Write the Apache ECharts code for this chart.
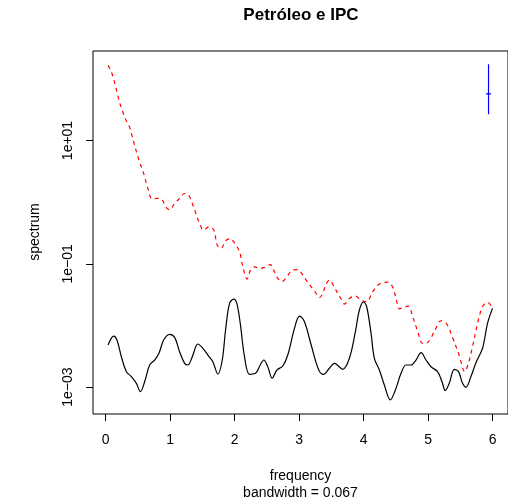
<!DOCTYPE html>
<html>
<head>
<meta charset="utf-8">
<script src="https://cdn.jsdelivr.net/npm/echarts@6/dist/echarts.min.js"></script>
<style>
  html, body { margin: 0; padding: 0; background: #fff; }
  #chart { width: 508px; height: 503px; }
</style>
</head>
<body>
<div id="chart"></div>
<script>
// Petróleo (black, solid) — smoothed periodogram
const petroleoFreq = [0.036, 0.124, 0.175, 0.243, 0.321, 0.398, 0.476, 0.538, 0.604, 0.682, 0.759, 0.826, 0.899, 0.991,
  1.069, 1.146, 1.224, 1.275, 1.343, 1.430, 1.507, 1.585, 1.662, 1.740, 1.808, 1.859, 1.921, 1.986, 2.034, 2.087,
  2.153, 2.231, 2.324, 2.397, 2.452, 2.514, 2.582, 2.654, 2.747, 2.824, 2.928, 3.005, 3.083, 3.187, 3.304, 3.377,
  3.470, 3.548, 3.676, 3.780, 3.873, 3.935, 3.997, 4.048, 4.116, 4.167, 4.245, 4.322, 4.415, 4.493, 4.581, 4.658,
  4.736, 4.813, 4.891, 4.968, 5.046, 5.148, 5.216, 5.267, 5.329, 5.407, 5.473, 5.535, 5.588, 5.665, 5.743, 5.845,
  5.922, 6.0];
const petroleoSpec = [0.00481, 0.00673, 0.00580, 0.00311, 0.00178, 0.00148, 0.00115, 0.000843, 0.00122, 0.00228,
  0.00275, 0.00353, 0.00580, 0.00718, 0.00641, 0.00375, 0.00243, 0.00228, 0.00311, 0.00500, 0.00426, 0.00331,
  0.00258, 0.00163, 0.00275, 0.00842, 0.0228, 0.0268, 0.0228, 0.0108, 0.00311, 0.00161, 0.00167, 0.00228, 0.00275,
  0.00214, 0.00139, 0.00189, 0.00220, 0.00331, 0.00897, 0.0142, 0.0115, 0.00481, 0.00189, 0.00161, 0.00202,
  0.00243, 0.00194, 0.00293, 0.00791, 0.0178, 0.0242, 0.0201, 0.00745, 0.00293, 0.00189, 0.00108, 0.000618,
  0.000897, 0.00167, 0.00228, 0.00228, 0.00275, 0.00361, 0.00275, 0.00214, 0.00178, 0.00122, 0.000881, 0.00115,
  0.00194, 0.00178, 0.00115, 0.000993, 0.00148, 0.00249, 0.00426, 0.0108, 0.0189];

// IPC (red, dashed)
const ipcFreq = [0.036, 0.088, 0.124, 0.155, 0.181, 0.206, 0.243, 0.279, 0.321, 0.372, 0.403, 0.434, 0.465, 0.496,
  0.527, 0.569, 0.604, 0.631, 0.662, 0.697, 0.733, 0.795, 0.872, 0.930, 0.991, 1.069, 1.146, 1.224, 1.259, 1.301,
  1.343, 1.390, 1.425, 1.467, 1.518, 1.603, 1.678, 1.730, 1.792, 1.859, 1.932, 1.998, 2.076, 2.122, 2.192, 2.246,
  2.308, 2.386, 2.463, 2.552, 2.618, 2.669, 2.734, 2.809, 2.886, 2.979, 3.047, 3.119, 3.187, 3.253, 3.315, 3.366,
  3.419, 3.470, 3.548, 3.599, 3.651, 3.703, 3.780, 3.873, 3.961, 4.048, 4.141, 4.245, 4.373, 4.451, 4.503, 4.555,
  4.606, 4.694, 4.761, 4.838, 4.916, 4.993, 5.097, 5.201, 5.283, 5.380, 5.484, 5.569, 5.623, 5.690, 5.768, 5.845,
  5.922, 6.0];
const ipcSpec = [166, 129, 98.6, 74, 57.8, 45, 33.8, 26.4, 20.8, 16.2, 12.5, 9.5, 7.23, 5.63, 4.40, 3.39, 2.57, 2.01,
  1.56, 1.19, 1.12, 1.15, 1.11, 0.839, 0.755, 0.953, 1.15, 1.38, 1.38, 1.22, 0.953, 0.697, 0.544, 0.424, 0.352,
  0.398, 0.352, 0.201, 0.178, 0.236, 0.256, 0.217, 0.157, 0.0953, 0.0565, 0.0791, 0.0894, 0.0842, 0.0875, 0.0971,
  0.0741, 0.058, 0.0515, 0.0615, 0.0776, 0.0805, 0.0681, 0.0525, 0.0424, 0.0344, 0.0283, 0.0331, 0.0469, 0.0544,
  0.0415, 0.0331, 0.0268, 0.0222, 0.0275, 0.0299, 0.0258, 0.0242, 0.0352, 0.0469, 0.0505, 0.0419, 0.0275, 0.0185,
  0.0195, 0.0206, 0.0139, 0.0081, 0.0051, 0.00528, 0.0079, 0.0119, 0.0108, 0.00637, 0.00325, 0.00178, 0.00237,
  0.00452, 0.0108, 0.0201, 0.0237, 0.0196];

// confidence interval bar (top-right)
const ciFreq = 5.938;
const ciHalfWidth = 0.039;
const ciLower = 26.7;
const ciCenter = 56.9;
const ciUpper = 172.6;

const xTicks = [0, 1, 2, 3, 4, 5, 6];
const yTicks = [0.001, 0.1, 10];
const yTickLabels = ["1e\u221203", "1e\u221201", "1e+01"];

const pair = (xs, ys) => xs.map((x, i) => [x, ys[i]]);
const font = "Liberation Sans, Arial, Helvetica, sans-serif";

const chart = echarts.init(document.getElementById("chart"), null, { renderer: "canvas" });

chart.setOption({
  backgroundColor: "#fff",
  animation: false,
  grid: {
    left: 93, top: 51, width: 416, height: 363,
    show: true, borderColor: "#000", borderWidth: 1, backgroundColor: "transparent"
  },
  xAxis: {
    type: "value",
    min: -0.197,
    max: 6.24,
    axisLine: { show: false, onZero: false },
    splitLine: { show: false },
    axisTick: { show: true, length: 7, lineStyle: { color: "#000", width: 1 }, customValues: xTicks },
    axisLabel: { color: "#000", fontSize: 14, fontFamily: font, margin: 19, customValues: xTicks }
  },
  yAxis: {
    type: "log",
    logBase: 10,
    min: 3.66e-4,
    max: 283,
    axisLine: { show: false, onZero: false },
    splitLine: { show: false },
    axisTick: { show: true, length: 7, lineStyle: { color: "#000", width: 1 }, customValues: yTicks },
    axisLabel: {
      color: "#000", fontSize: 14, fontFamily: font, margin: 18, rotate: 90,
      customValues: yTicks,
      formatter: (v) => {
        const i = yTicks.findIndex((t) => Math.abs(Math.log10(t) - Math.log10(v)) < 1e-6);
        return i >= 0 ? yTickLabels[i] : "";
      }
    }
  },
  graphic: [
    { type: "text", x: 301, y: 15, style: { text: "Petróleo e IPC", font: "bold 17px " + font, fill: "#000", textAlign: "center", textVerticalAlign: "middle" } },
    { type: "text", x: 300.5, y: 476, style: { text: "frequency", font: "14px " + font, fill: "#000", textAlign: "center", textVerticalAlign: "middle" } },
    { type: "text", x: 300.5, y: 493, style: { text: "bandwidth = 0.067", font: "14px " + font, fill: "#000", textAlign: "center", textVerticalAlign: "middle" } },
    { type: "text", x: 35, y: 232, rotation: Math.PI / 2, style: { text: "spectrum", font: "14px " + font, fill: "#000", textAlign: "center", textVerticalAlign: "middle" } }
  ],
  series: [
    {
      name: "Petróleo",
      type: "line",
      data: pair(petroleoFreq, petroleoSpec),
      showSymbol: false,
      smooth: 0.35,
      lineStyle: { color: "#000", width: 1.2, type: "solid" },
      clip: true
    },
    {
      name: "IPC",
      type: "line",
      data: pair(ipcFreq, ipcSpec),
      showSymbol: false,
      smooth: 0.35,
      lineStyle: { color: "#ff0000", width: 1.2, type: [4, 4] },
      clip: true
    },
    {
      name: "ci",
      type: "line",
      data: [[ciFreq, ciLower], [ciFreq, ciUpper]],
      showSymbol: false,
      lineStyle: { color: "#0000ff", width: 1.2 }
    },
    {
      name: "ciMid",
      type: "line",
      data: [[ciFreq - ciHalfWidth, ciCenter], [ciFreq + ciHalfWidth, ciCenter]],
      showSymbol: false,
      lineStyle: { color: "#0000ff", width: 1.2 }
    }
  ]
});
</script>
</body>
</html>
